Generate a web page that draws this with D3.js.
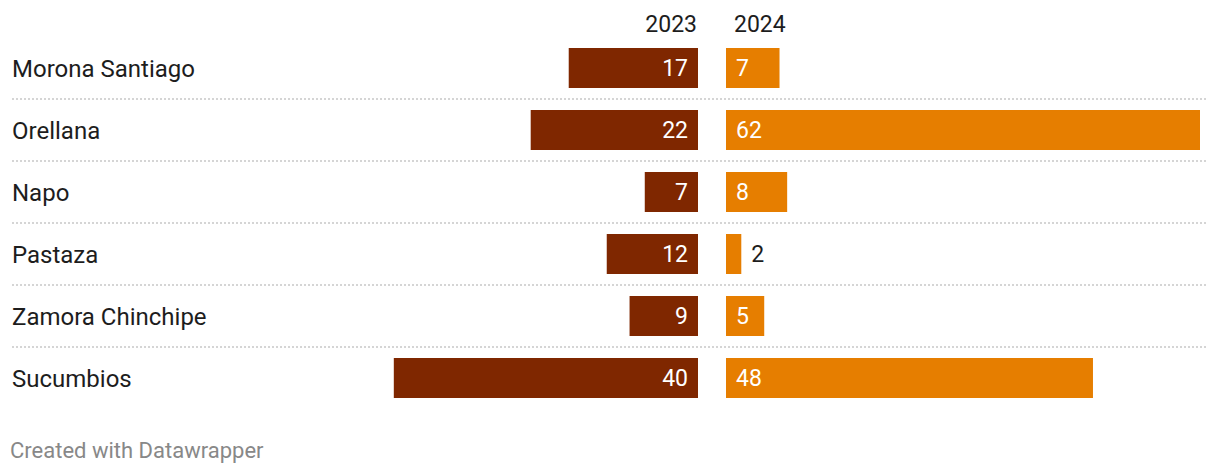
<!DOCTYPE html>
<html><head><meta charset="utf-8">
<script src="https://cdn.jsdelivr.net/npm/d3@7"></script>
<style>
body{margin:0;background:#fff;}
svg{display:block;font-family:Roboto,"Noto Sans",sans-serif;}
</style></head>
<body>
<svg id="chart" width="1220" height="474"></svg>
<script>
const categories = ["Morona Santiago","Orellana","Napo","Pastaza","Zamora Chinchipe","Sucumbios"];
const values2023 = [17,22,7,12,9,40];
const values2024 = [7,62,8,2,5,48];
const seriesNames = ["2023","2024"];
const footerText = "Created with Datawrapper";

const svg = d3.select("#chart");
const colors = ["#7f2700","#e67e00"];
const y = d3.scaleBand().domain(categories).range([37,409]).paddingInner(0).paddingOuter(0);
const barH = 40;
const maxV = d3.max(values2023.concat(values2024));
const x23 = d3.scaleLinear().domain([0,maxV]).range([698, 698-471.5]);
const x24 = d3.scaleLinear().domain([0,maxV]).range([726, 1200]);
const fsLabel = 24, fsNum = 23;

// separators
svg.append("g").selectAll("line").data(categories.slice(0,-1)).join("line")
  .attr("x1",12).attr("x2",1208)
  .attr("y1",d=>y(d)+y.bandwidth()).attr("y2",d=>y(d)+y.bandwidth())
  .attr("stroke","#d5d5d5").attr("stroke-width",2).attr("stroke-dasharray","2,2");

// headers
svg.append("text").attr("x",697).attr("y",32).attr("text-anchor","end")
  .attr("font-size",fsNum).attr("fill","#1d1d1d").text(seriesNames[0]);
svg.append("text").attr("x",734).attr("y",32).attr("text-anchor","start")
  .attr("font-size",fsNum).attr("fill","#1d1d1d").text(seriesNames[1]);

const rows = svg.append("g").selectAll("g").data(categories).join("g")
  .attr("transform",d=>`translate(0,${y(d)+y.bandwidth()/2})`);

rows.append("text").attr("x",12).attr("dy","0.36em").attr("font-size",fsLabel)
  .attr("fill","#1d1d1d").text(d=>d);

rows.append("rect")
  .attr("x",(d,i)=>x23(values2023[i])).attr("y",-barH/2)
  .attr("width",(d,i)=>x23(0)-x23(values2023[i])).attr("height",barH)
  .attr("fill",colors[0]);
rows.append("rect")
  .attr("x",x24(0)).attr("y",-barH/2)
  .attr("width",(d,i)=>x24(values2024[i])-x24(0)).attr("height",barH)
  .attr("fill",colors[1]);

rows.append("text").attr("x",x23(0)-10).attr("dy","0.36em").attr("text-anchor","end")
  .attr("font-size",fsNum).attr("fill","#fff").text((d,i)=>values2023[i]);

rows.append("text").each(function(d,i){
  const v = values2024[i];
  const w = x24(v)-x24(0);
  const inside = w > 34;
  d3.select(this)
    .attr("x", inside ? x24(0)+10 : x24(v)+10)
    .attr("dy","0.36em").attr("font-size",fsNum)
    .attr("fill", inside ? "#fff" : "#1d1d1d").text(v);
});

svg.append("text").attr("x",10).attr("y",458).attr("font-size",22)
  .attr("fill","#888").text(footerText);
</script>
</body></html>
